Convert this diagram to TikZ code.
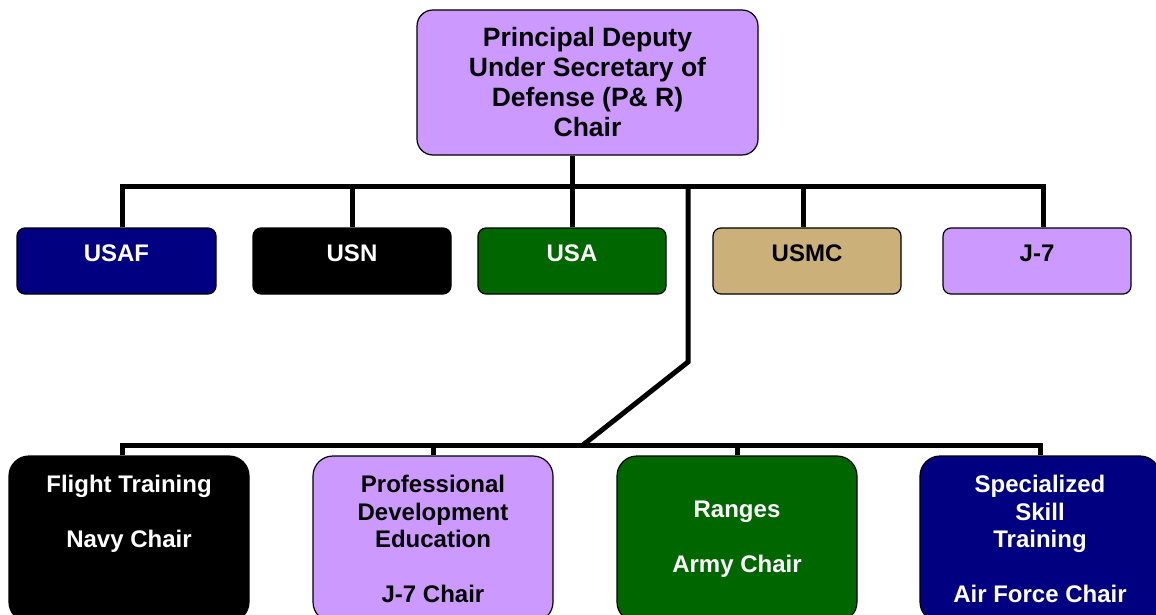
\documentclass[tikz,border=0pt]{standalone}
\usepackage{fontspec}
\setmainfont{Liberation Sans}
\usetikzlibrary{positioning}

\definecolor{chairpurple}{RGB}{204,153,255}
\definecolor{navyblue}{RGB}{0,0,128}
\definecolor{armygreen}{RGB}{0,102,0}
\definecolor{marinetan}{RGB}{204,176,122}

\begin{document}
\begin{tikzpicture}[x=1pt, y=-1pt,
  every node/.style={align=center},
  chief/.style={draw=black, line width=1.2pt, rounded corners=16pt, fill=chairpurple,
    minimum width=341pt, minimum height=145pt, font=\fontsize{26.5}{30}\selectfont\bfseries},
  service/.style={draw=black, line width=1.2pt, rounded corners=8pt, fill=#1,
    minimum width=188pt, minimum height=66pt, text height=16pt, text depth=16pt,
    font=\fontsize{24}{28}\selectfont\bfseries},
  panel/.style={draw=black, line width=1.2pt, rounded corners=20pt, fill=#1,
    minimum width=240pt, minimum height=166pt, font=\fontsize{24}{27.5}\selectfont\bfseries},
  link/.style={line width=5pt}]

\clip (0,0) rectangle (1156,615);

% Chair at the top
\node[chief] (pdusd) at (587.5,82.5) {Principal Deputy\\Under Secretary of\\Defense (P\& R)\\Chair};

% Services row
\node[service=navyblue, text=white, minimum width=199pt] (usaf) at (116.5,261) {USAF};
\node[service=black, text=white, minimum width=198pt] (usn) at (352,261) {USN};
\node[service=armygreen, text=white] (usa) at (572,261) {USA};
\node[service=marinetan] (usmc) at (807,261) {USMC};
\node[service=chairpurple] (jseven) at (1037,261) {J-7};

% Working groups row
\node[panel=black, text=white] (flight) at (129,539) {Flight Training\\~\\Navy Chair\\~\\~};
\node[panel=chairpurple] (pde) at (433,539) {Professional\\Development\\Education\\~\\J-7 Chair};
\node[panel=armygreen, text=white] (ranges) at (737,539) {Ranges\\~\\Army Chair};
\node[panel=navyblue, text=white] (sst) at (1040,539) {Specialized\\Skill\\Training\\~\\Air Force Chair};

% bus lines
\coordinate (hub) at (572,186);
\coordinate (split) at (688,186);
\coordinate (bend) at (688,362);
\coordinate (join) at (583,445);

\draw[link] (pdusd.south -| hub) -- (hub);
\draw[link] ([xshift=5.5pt]usaf.north) |- ([xshift=6pt]jseven.north |- hub) -- ([xshift=6pt]jseven.north);
\draw[link] (usn.north) -- (usn.north |- hub);
\draw[link] (usa.north) -- (usa.north |- hub);
\draw[link] ([xshift=-4pt]usmc.north) -- ([xshift=-4pt]usmc.north |- hub);

\draw[link] (split) -- (bend) -- (join);
\draw[link] ([xshift=-7pt]flight.north) |- (sst.north |- join) -- (sst.north);
\foreach \n in {pde,ranges}
  \draw[link] (\n.north) -- (\n.north |- join);

\end{tikzpicture}
\end{document}
